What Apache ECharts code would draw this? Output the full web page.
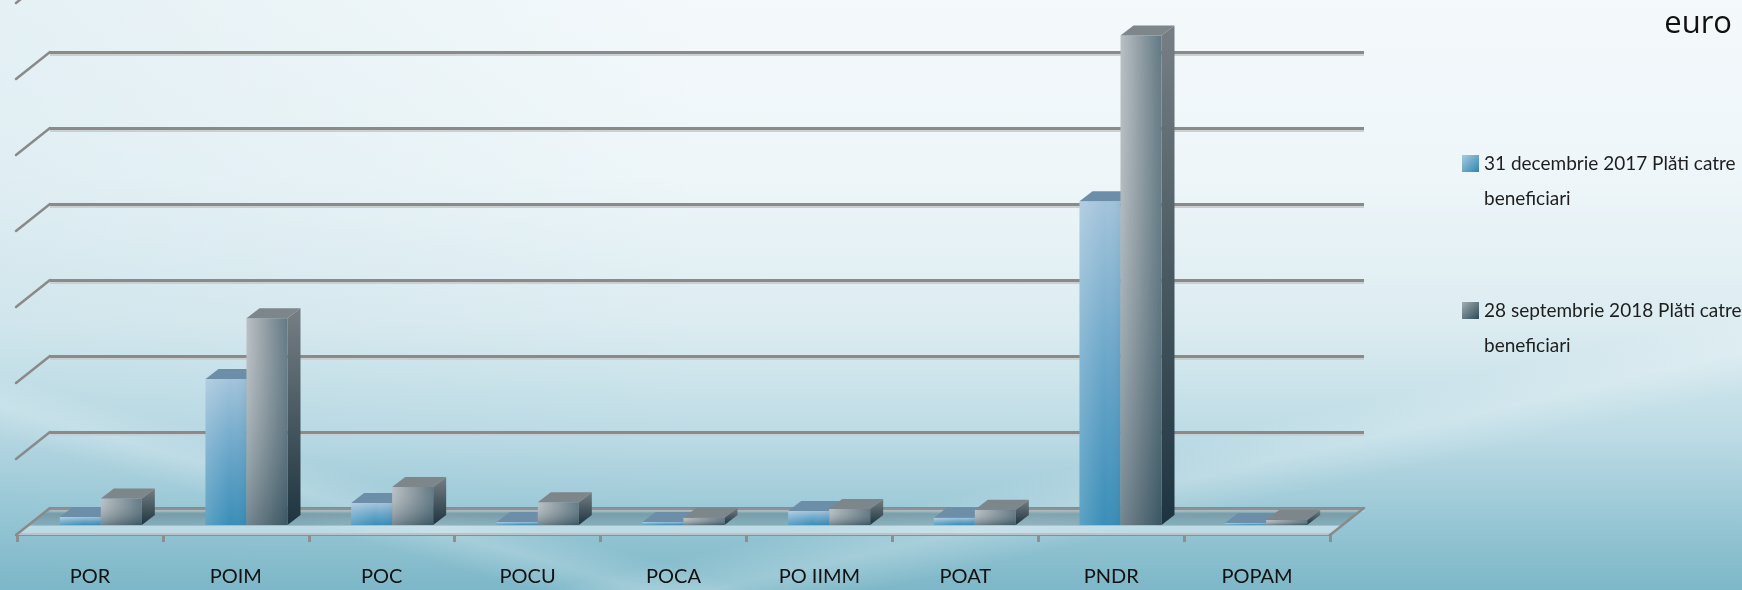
<!DOCTYPE html>
<html>
<head>
<meta charset="utf-8">
<script src="https://cdn.jsdelivr.net/npm/echarts@6/dist/echarts.min.js"></script>
<style>
html,body{margin:0;padding:0;width:1742px;height:590px;overflow:hidden;}
body{
  background:
    linear-gradient(167deg, rgba(255,255,255,0) 72%, rgba(255,255,255,0.22) 76%, rgba(255,255,255,0) 80%),
    linear-gradient(196deg, rgba(255,255,255,0) 80%, rgba(255,255,255,0.2) 83%, rgba(255,255,255,0) 86%),
    linear-gradient(to right, rgba(120,180,200,0.12) 0%, rgba(120,180,200,0) 40%),
    linear-gradient(to bottom, #f4f9fb 0%, #eef6f9 30%, #dcecf1 55%, #bcdbe5 74%, #98c7d5 88%, #7db7c8 100%);
}
#c{width:1742px;height:590px;}
</style>
</head>
<body>
<div id="c"></div>
<script>
// Values in million euro (grid step = 1000)
const categories = ['POR', 'POIM', 'POC', 'POCU', 'POCA', 'PO IIMM', 'POAT', 'PNDR', 'POPAM'];
const seriesNames = ['31 decembrie 2017 Plăti catre\nbeneficiari', '28 septembrie 2018 Plăti catre\nbeneficiari'];
const plati2017 = [105, 1920, 290, 40, 40, 185, 95, 4260, 25];
const plati2018 = [350, 2720, 500, 300, 95, 210, 200, 6440, 65];
const gridTicks = [0, 1000, 2000, 3000, 4000, 5000, 6000, 7000];
const unitLabel = 'euro';

const G = echarts.graphic;
const BAR_W = 41, DX = 13, DY = -10;     // bar width and bar depth
const FDX = -34, FDY = 27;               // wall-to-front depth offset

const frontFill = [
  new G.LinearGradient(0, 0, 0, 1, [{offset: 0, color: '#a3c4db'}, {offset: 0.5, color: '#6aa6c9'}, {offset: 1, color: '#3a8eb8'}]),
  new G.LinearGradient(0, 0, 1, 0, [{offset: 0, color: '#b3bbc0'}, {offset: 0.45, color: '#8a979e'}, {offset: 1, color: '#546d79'}])
];
const frontOverlay = [
  new G.LinearGradient(0, 0, 1, 0, [{offset: 0, color: 'rgba(255,255,255,0.18)'}, {offset: 0.6, color: 'rgba(255,255,255,0)'}, {offset: 1, color: 'rgba(0,40,70,0.06)'}]),
  new G.LinearGradient(0, 0, 0, 1, [{offset: 0, color: 'rgba(255,255,255,0.08)'}, {offset: 1, color: 'rgba(15,50,65,0.38)'}])
];
const sideFill = [
  new G.LinearGradient(0, 0, 0, 1, [{offset: 0, color: '#5a88a4'}, {offset: 1, color: '#2a5f7c'}]),
  new G.LinearGradient(0, 0, 0, 1, [{offset: 0, color: '#767f84'}, {offset: 1, color: '#1d3440'}])
];
const topFill = ['#6d8ea9', '#7d868b'];
const legendFill = [
  new G.LinearGradient(0, 0, 1, 1, [{offset: 0, color: '#a9cbe0'}, {offset: 1, color: '#2f86b1'}]),
  new G.LinearGradient(0, 0, 1, 1, [{offset: 0, color: '#a3adb3'}, {offset: 1, color: '#2b4a58'}])
];

function barRenderer(which) {
  return function (params, api) {
    const idx = api.value(0), val = api.value(1);
    const top = api.coord([idx, val]);
    const base = api.coord([idx, 0]);
    const x0 = which === 0 ? top[0] - BAR_W : top[0];
    const x1 = x0 + BAR_W;
    const yT = top[1], yB = base[1];
    const h = Math.max(yB - yT, 0.5);
    return {
      type: 'group',
      children: [
        {type: 'polygon', shape: {points: [[x1, yT], [x1 + DX, yT + DY], [x1 + DX, yB + DY], [x1, yB]]}, style: {fill: sideFill[which]}},
        {type: 'rect', shape: {x: x0, y: yT, width: BAR_W, height: h}, style: {fill: frontFill[which]}},
        {type: 'rect', shape: {x: x0, y: yT, width: BAR_W, height: h}, style: {fill: frontOverlay[which]}},
        {type: 'polygon', shape: {points: [[x0, yT], [x0 + DX, yT + DY], [x1 + DX, yT + DY], [x1, yT]]}, style: {fill: topFill[which]}}
      ]
    };
  };
}

function frameRenderer(params, api) {
  const v = api.value(1);
  const p = api.coord([0, v]);
  const bw = api.size([1, 0])[0];
  const xl = p[0] - bw / 2;
  const xr = api.coord([categories.length - 1, v])[0] + bw / 2;
  const y = p[1];
  const line = {stroke: '#8a8a8a', lineWidth: 2.5, lineCap: 'round'};
  const children = [];
  if (v === 0) {
    children.push({
      type: 'polygon',
      shape: {points: [[xl, y], [xr, y], [xr + FDX, y + FDY], [xl + FDX, y + FDY]]},
      style: {fill: new G.LinearGradient(0, 0, 0, 1, [
        {offset: 0, color: 'rgba(150,175,182,0.25)'},
        {offset: 0.22, color: 'rgba(85,115,125,0.5)'},
        {offset: 0.62, color: 'rgba(110,140,150,0.42)'},
        {offset: 0.68, color: 'rgba(225,238,243,0.55)'},
        {offset: 1, color: 'rgba(225,238,243,0.55)'}
      ])}
    });
    children.push({type: 'line', shape: {x1: xr, y1: y, x2: xr + FDX, y2: y + FDY}, style: line});
  }
  children.push({type: 'line', shape: {x1: xl, y1: y, x2: xl + FDX, y2: y + FDY}, style: line});
  return {type: 'group', children: children};
}

const chart = echarts.init(document.getElementById('c'), null, {renderer: 'canvas'});
chart.setOption({
  backgroundColor: 'transparent',
  animation: false,
  title: {
    text: unitLabel, right: 5, top: 4,
    textStyle: {fontFamily: 'Open Sans', fontSize: 31, fontWeight: 'normal', color: '#111'}
  },
  legend: {
    orient: 'vertical', left: 1462, top: 111, padding: 0,
    itemWidth: 17, itemHeight: 17, itemGap: 42, icon: 'rect',
    formatter: function (name) { return ' \n' + name; },
    textStyle: {fontFamily: 'Lato', fontSize: 19, color: '#1e1e1e', lineHeight: 35},
    data: seriesNames
  },
  grid: [
    {left: 50, right: 378, top: 0, bottom: 82},
    {left: 28, right: 403, top: 0, bottom: 65},
    {left: 17, right: 412, top: 300, bottom: 56}
  ],
  xAxis: [
    {type: 'category', gridIndex: 0, data: categories, show: false},
    {type: 'category', gridIndex: 1, data: categories, show: false},
    {type: 'category', gridIndex: 2, data: categories,
      axisLine: {show: true, lineStyle: {color: '#8e8e8e', width: 3}},
      axisTick: {show: true, length: 8, lineStyle: {color: '#8e8e8e', width: 3}},
      axisLabel: {fontFamily: 'Lato', fontSize: 20, color: '#111', margin: 33}}
  ],
  yAxis: [
    {type: 'value', gridIndex: 0, min: 0, max: 6684, interval: 1000,
      axisLine: {show: false}, axisTick: {show: false}, axisLabel: {show: false},
      splitLine: {show: true, showMaxLine: false, lineStyle: {color: '#8a8a8a', width: 3, shadowColor: 'rgba(200,205,208,0.95)', shadowOffsetY: 2}}},
    {type: 'value', gridIndex: 1, min: 0, max: 6908, interval: 1000, show: false, splitLine: {show: false}},
    {type: 'value', gridIndex: 2, show: false, splitLine: {show: false}}
  ],
  series: [
    {type: 'custom', name: 'frame', xAxisIndex: 0, yAxisIndex: 0, z: 1, silent: true, clip: false,
      renderItem: frameRenderer, data: gridTicks.map(v => [0, v])},
    {type: 'custom', name: seriesNames[0], xAxisIndex: 1, yAxisIndex: 1, z: 3, clip: false,
      itemStyle: {color: legendFill[0]}, renderItem: barRenderer(0),
      encode: {x: 0, y: 1}, data: plati2017.map((v, i) => [i, v])},
    {type: 'custom', name: seriesNames[1], xAxisIndex: 1, yAxisIndex: 1, z: 3, clip: false,
      itemStyle: {color: legendFill[1]}, renderItem: barRenderer(1),
      encode: {x: 0, y: 1}, data: plati2018.map((v, i) => [i, v])}
  ]
});
</script>
</body>
</html>
